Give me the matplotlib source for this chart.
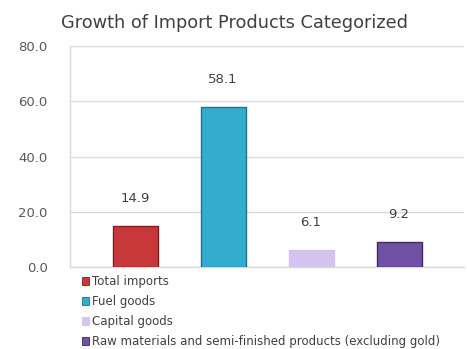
import matplotlib
matplotlib.use("Agg")
import matplotlib.pyplot as plt
from matplotlib.patches import Polygon

categories = ["Total imports", "Fuel goods", "Capital goods",
              "Raw materials and semi-finished products (excluding gold)"]
values = [14.9, 58.1, 6.1, 9.2]
colors = ["#C8383A", "#33ADCE", "#D2C3EF", "#6F51A3"]
edges = ["#7E1F20", "#1F7189", "#D2C3EF", "#3E2A66"]
yticks = [0, 20, 40, 60, 80]

plt.rcParams["font.family"] = ["DejaVu Sans"]

fig = plt.figure(figsize=(4.67, 3.49), dpi=100)
ax = fig.add_axes([0.150, 0.235, 0.844, 0.633])

xs = list(range(len(values)))
bars = ax.bar(xs, values, width=0.51, color=colors, edgecolor=edges,
              linewidth=1.0, zorder=3)

# small bevel highlight on top of each bar
for b, c in zip(bars, colors):
    x0, w, h = b.get_x(), b.get_width(), b.get_height()
    d = min(w * 0.18, h * 0.3)
    top = Polygon([[x0, h], [x0 + w, h], [x0 + w - w * 0.12, h - d],
                   [x0 + w * 0.12, h - d]], closed=True,
                  facecolor="white", alpha=0.18, edgecolor="none", zorder=4)
    ax.add_patch(top)

for x, v in zip(xs, values):
    ax.annotate(f"{v:.1f}", (x, v), xytext=(0, 15), textcoords="offset points",
                ha="center", va="bottom", fontsize=9.5, color="#404040")

ax.set_xlim(-0.74, 3.74)
ax.set_ylim(0, 80)
ax.set_yticks(yticks)
ax.set_yticklabels([f"{t:.1f}" for t in yticks])
ax.set_xticks([])
ax.tick_params(axis="y", length=0, pad=16, labelsize=9.5, labelcolor="#595959")
ax.yaxis.grid(True, color="#D9D9D9", linewidth=1.0, zorder=0)
for s in ["top", "right"]:
    ax.spines[s].set_visible(False)
for s in ["left", "bottom"]:
    ax.spines[s].set_color("#D9D9D9")
    ax.spines[s].set_linewidth(1.0)

ax.set_title("Growth of Import Products Categorized", fontsize=12.8,
             color="#404040", pad=13, x=0.418)

handles = [plt.Rectangle((0, 0), 1, 1, facecolor=c, edgecolor=e, linewidth=0.6)
           for c, e in zip(colors, edges)]
fig.legend(handles, categories, loc="upper left", bbox_to_anchor=(0.176, 0.212),
           frameon=False, fontsize=8.5, handlelength=0.6, handleheight=0.6,
           handletextpad=0.25, labelspacing=0.6, borderpad=0, borderaxespad=0,
           labelcolor="#404040")

fig.savefig("out.png", dpi=100)
